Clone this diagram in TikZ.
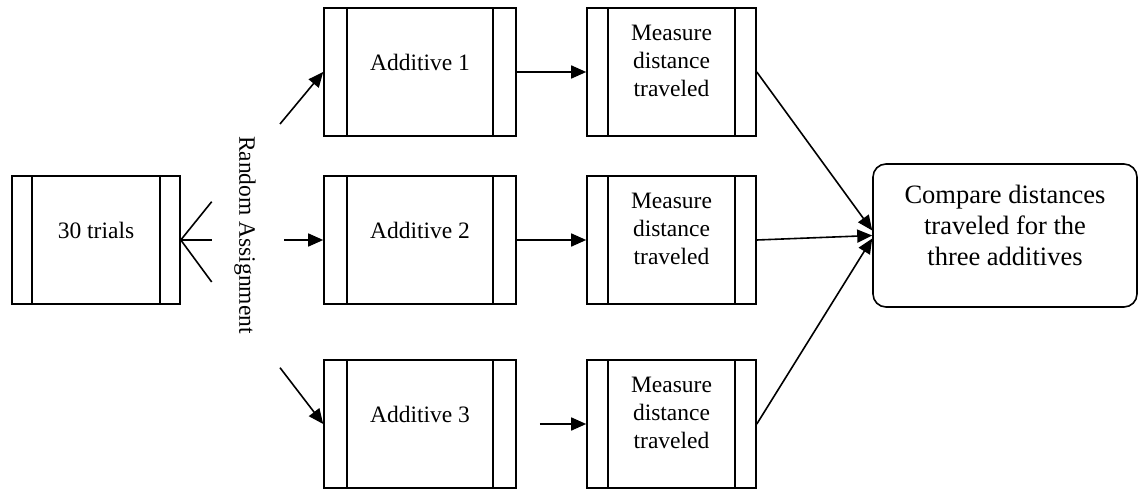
\documentclass[tikz,border=0pt]{standalone}
\usepackage{fontspec}
\setmainfont{Liberation Serif}
\usetikzlibrary{arrows.meta}
\newcommand\mybarw{21pt}
\tikzset{
  x=1pt, y=-1pt,
  bar/.store in=\mybarw,
  procbox/.style={draw, line width=1.6pt, inner sep=0pt,
    path picture={
      \draw[line width=1.6pt] ([xshift=\mybarw]path picture bounding box.north west) -- ([xshift=\mybarw]path picture bounding box.south west);
      \draw[line width=1.6pt] ([xshift=-\mybarw]path picture bounding box.north east) -- ([xshift=-\mybarw]path picture bounding box.south east);
    }},
  lbl/.style={align=center, inner sep=0pt, font=\fontsize{23.5}{28}\selectfont},
  conn/.style={line width=1.6pt},
  arr/.style={line width=1.6pt, -{Triangle[length=15pt,width=13pt]}},
}
\begin{document}
\begin{tikzpicture}
\useasboundingbox (0,0) rectangle (1139,489);

% boxes
\node[procbox, bar=20pt, minimum width=168pt, minimum height=128pt] (t30) at (96,240) {};
\node[lbl] (t30t) at ([yshift=10pt]t30.center) {30 trials};

\node[procbox, bar=23pt, minimum width=192pt, minimum height=128pt] (a1) at (420,72) {};
\node[lbl] (a1t) at ([yshift=10pt]a1.center) {Additive 1};
\node[procbox, bar=23pt, minimum width=192pt, minimum height=128pt] (a2) at (420,240) {};
\node[lbl] (a2t) at ([yshift=10pt]a2.center) {Additive 2};
\node[procbox, bar=23pt, minimum width=192pt, minimum height=128pt] (a3) at (420,424) {};
\node[lbl] (a3t) at ([yshift=10pt]a3.center) {Additive 3};

\node[procbox, bar=21pt, minimum width=169pt, minimum height=128pt] (m1) at (671.5,72) {};
\node[lbl] (m1t) at ([yshift=11pt]m1.center) {Measure\\distance\\traveled};
\node[procbox, bar=21pt, minimum width=169pt, minimum height=128pt] (m2) at (671.5,240) {};
\node[lbl] (m2t) at ([yshift=11pt]m2.center) {Measure\\distance\\traveled};
\node[procbox, bar=21pt, minimum width=169pt, minimum height=128pt] (m3) at (671.5,424) {};
\node[lbl] (m3t) at ([yshift=11pt]m3.center) {Measure\\distance\\traveled};

\node[draw, line width=1.6pt, rounded corners=13pt, minimum width=264pt, minimum height=143pt] (cmp) at (1005,235.5) {};
\node[lbl, font=\fontsize{26.5}{31}\selectfont] (cmpt) at ([yshift=10pt]cmp.center) {Compare distances\\traveled for the\\three additives};

% random assignment
\node[lbl, rotate=-90] (ra) at (245,235) {Random Assignment};

% fan lines from 30 trials
\coordinate (r1) at (211.7,201.7);
\coordinate (r2) at (211.7,240);
\coordinate (r3) at (211.7,282);
\draw[conn] (r1) -- (t30.east) -- (r3);
\draw[conn] (t30.east) -- (r2);

% arrows into additives
\coordinate (s1) at (280,124);
\coordinate (s2) at (284,240);
\coordinate (s3) at (280,367.7);
\draw[arr] (s1) -- (a1.west);
\draw[arr] (s2) -- (a2.west);
\draw[arr] (s3) -- (a3.west);

% additives to measure
\draw[arr] (a1.east) -- (m1.west);
\draw[arr] (a2.east) -- (m2.west);
\draw[arr] ([xshift=23pt]a3.east) -- (m3.west);

% measure to compare
\draw[arr] (m1.east) -- ([yshift=5pt]cmp.west);
\draw[arr] (m2.east) -- (cmp.west);
\draw[arr] (m3.east) -- ([yshift=-3pt]cmp.west);
\end{tikzpicture}
\end{document}
